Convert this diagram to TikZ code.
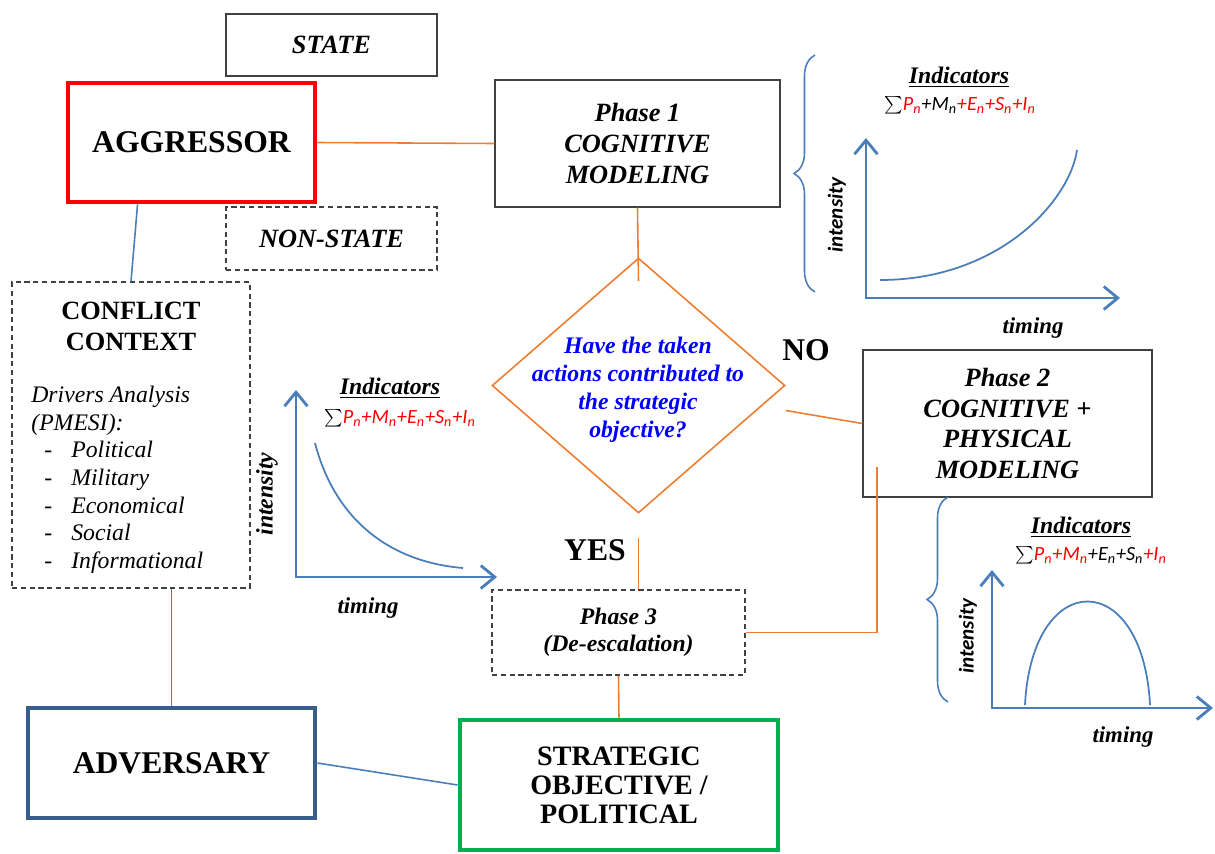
\documentclass[tikz,border=0pt]{standalone}
\usepackage{fontspec}
\setmainfont{Liberation Serif}
\newfontfamily\carl{Carlito}
\usepackage{xcolor}
\usetikzlibrary{positioning,calc,arrows.meta,shapes.geometric,decorations.pathreplacing}
\definecolor{IOrange}{HTML}{ED7D31}
\definecolor{IBlue}{HTML}{4A7EBB}
\definecolor{INavy}{HTML}{385D8A}
\definecolor{IRed}{HTML}{FF0000}
\definecolor{IGreen}{HTML}{00B050}
\definecolor{IInk}{HTML}{404040}
\definecolor{IQuest}{HTML}{0000FF}
\newcommand{\fsz}[2]{\fontsize{#1}{#2}\selectfont}
\newcommand{\nsub}[1]{#1\textsubscript{n}}
\newcommand{\litem}[1]{\hspace*{0.26cm}\makebox[0.54cm][l]{\upshape -}#1}

\begin{document}
\begin{tikzpicture}[x=0.02cm, y=-0.02cm, every node/.style={align=center, inner sep=0pt},
  plainbox/.style={draw=IInk, line width=0.8pt},
  dashbox/.style={plainbox, dash pattern=on 3pt off 2pt},
  bigtxt/.style={font=\fsz{18}{21}\bfseries},
  tagtxt/.style={font=\fsz{15}{18}\bfseries\itshape},
  phasetxt/.style={font=\fsz{15}{17.6}\bfseries\itshape},
  orangeline/.style={draw=IOrange, line width=0.9pt},
  blueline/.style={draw=IBlue, line width=0.9pt},
  chartaxis/.style={draw=IBlue, line width=1.6pt,
    arrows={Straight Barb[length=2.8mm,width=4.6mm]-Straight Barb[length=2.8mm,width=4.6mm]}},
  curveline/.style={draw=IBlue, line width=1pt},
  bracel/.style={draw=IBlue, line width=0.9pt, decorate, decoration={brace, amplitude=0.42cm}},
  indhead/.style={font=\fsz{13.5}{16}\bfseries\itshape},
  indform/.style={font=\carl\itshape\fsz{11.5}{14}},
  timetxt/.style={font=\fsz{13}{15}\bfseries\itshape}]
\useasboundingbox (0,0) rectangle (1215,853);

% actors
\node[plainbox, minimum width=4.22cm, minimum height=1.24cm, tagtxt] (state) at (331.5,45) {STATE};
\node[draw=IRed, line width=2.8pt, minimum width=4.94cm, minimum height=2.38cm, bigtxt] (aggr) at (191.5,142.5) {AGGRESSOR};
\node[dashbox, minimum width=4.22cm, minimum height=1.26cm, tagtxt] (nonstate) at (331.5,238.5) {NON-STATE};
\node[draw=INavy, line width=2.8pt, minimum width=5.74cm, minimum height=2.2cm, bigtxt] (adv) at (171.5,763) {ADVERSARY};

% conflict context
\node[dashbox, minimum width=4.76cm, minimum height=6.12cm] (ctx) at (131,435) {};
\node[font=\fsz{15}{17.6}\bfseries] (ctxhd) at (131,326) {CONFLICT\\CONTEXT};
\node[anchor=north west, align=left, font=\fsz{13.5}{15.7}\itshape] (drv) at (31,386)
  {Drivers Analysis\\(PMESI):\\\litem{Political}\\\litem{Military}\\\litem{Economical}\\\litem{Social}\\\litem{Informational}};

% phases
\node[plainbox, minimum width=5.7cm, minimum height=2.54cm, phasetxt] (p1) at (637.5,143.5) {Phase 1\\COGNITIVE\\MODELING};
\node[diamond, draw=IOrange, line width=0.9pt, minimum width=5.86cm, minimum height=5.1cm] (dia) at (638.5,385.5) {};
\node[text=IQuest, font=\fsz{13.5}{16}\bfseries\itshape] (quest) at (638,390)
  {Have the taken\\actions contributed to\\the strategic\\objective?};
\node[plainbox, minimum width=5.78cm, minimum height=2.94cm, phasetxt] (p2) at (1007.5,423.5) {Phase 2\\COGNITIVE +\\PHYSICAL\\MODELING};
\node[dashbox, minimum width=5.06cm, minimum height=1.7cm, font=\fsz{13.5}{15.4}\bfseries\itshape] (p3) at (618.5,632.5) {Phase 3\\(De-escalation)};
\node[draw=IGreen, line width=2.8pt, minimum width=6.36cm, minimum height=2.6cm, font=\fsz{16}{16.5}\bfseries] (strat) at (619,785) {STRATEGIC\\OBJECTIVE /\\POLITICAL};
\node[bigtxt] (no) at (806,350) {NO};
\node[bigtxt] (yes) at (595,550) {YES};
\coordinate (p2in) at (877,467);

% connectors
\draw[orangeline] (aggr.east) -- (p1.west);
\draw[orangeline] (p1.south) -- ([yshift=-0.48cm]dia.north);
\draw[orangeline] ([yshift=-0.5cm]dia.east) -- (p2.west);
\draw[orangeline] ([yshift=-0.48cm]dia.south) -- (dia.south |- p3.north);
\draw[orangeline] (p3.east) -| (p2in);
\draw[orangeline] (p3.south) -- (strat.north);
\draw[blueline] ([xshift=1.44cm]aggr.south west) -- (ctx.north);
\draw[blueline] (adv.north |- ctx.south) -- (adv.north);
\draw[blueline] (adv.east) -- (strat.west);

% charts
\foreach \ox/\oy/\ty/\rx in {866/298/138/1120, 296/577/390/497, 992/708/570/1213}
  \draw[chartaxis] (\ox,\ty) |- (\rx,\oy);
\draw[curveline] (880,280) .. controls (1000,280) and (1070,200) .. (1077,150);
\draw[curveline] (315,443) .. controls (335,520) and (390,562) .. (463,568);
\draw[curveline] (1025,705) .. controls (1032,567) and (1143,567) .. (1150,705);
\draw[bracel] (815,292) -- (815,55);
\draw[bracel] (948,702) -- (948,497);

\node[indhead] (inda) at (959,77) {\underline{Indicators}};
\node[indform] (forma) at (960,105) {$\sum$\textcolor{IRed}{\nsub{P}}+\nsub{M}\textcolor{IRed}{+\nsub{E}+\nsub{S}+\nsub{I}}};
\node[indhead] (indb) at (390,388) {\underline{Indicators}};
\node[indform] (formb) at (400,418) {$\sum$\textcolor{IRed}{\nsub{P}+\nsub{M}+\nsub{E}+\nsub{S}+\nsub{I}}};
\node[indhead] (indc) at (1081,527) {\underline{Indicators}};
\node[indform] (formc) at (1091,555) {$\sum$\textcolor{IRed}{\nsub{P}+\nsub{M}}+\nsub{E}+\nsub{S}\textcolor{IRed}{+\nsub{I}}};

\node[rotate=90, font=\carl\bfseries\itshape\fsz{12}{14}] (inta) at (837,215) {intensity};
\node[rotate=90, font=\fsz{13.5}{16}\bfseries\itshape] (intb) at (267,494) {intensity};
\node[rotate=90, font=\carl\bfseries\itshape\fsz{12}{14}] (intc) at (968,636) {intensity};
\node[timetxt] (tima) at (1033,328) {timing};
\node[timetxt] (timb) at (368,608) {timing};
\node[timetxt] (timc) at (1123,737) {timing};
\end{tikzpicture}
\end{document}
